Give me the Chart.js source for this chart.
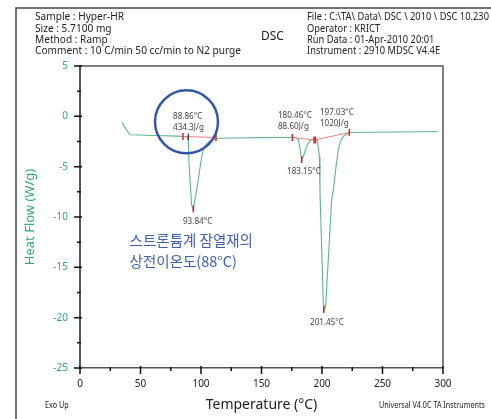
<!DOCTYPE html>
<html>
<head>
<meta charset="utf-8">
<script src="https://cdn.jsdelivr.net/npm/chart.js@4"></script>
<style>
  html, body { margin: 0; padding: 0; background: #fff; }
  #wrap { width: 491px; height: 419px; }
</style>
</head>
<body>
<div id="wrap"><canvas id="dsc" width="491" height="419"></canvas></div>
<script>
// DSC run: temperature (°C) vs heat flow (W/g)
const tempC = [34.7, 36.5, 41.3, 50, 60, 70, 80, 87, 88.9, 89.5, 90.1, 91.2, 92.3, 93.5, 94.5, 96, 97.8, 99.5, 101.4, 103.5, 106, 108.5, 111.6,
  115, 130, 150, 170, 178, 180.4, 181.8, 183.2, 184.5, 187.3, 189.5, 191.5, 194.2, 196.1, 197.8, 198.3, 199.2, 200.2, 201.1, 201.5,
  203, 208, 209.4, 211.6, 213.5, 215.5, 217.6, 222.6, 240, 260, 280, 295.3];
const heatFlow = [-0.6, -1.0, -1.83, -1.86, -1.9, -1.93, -1.97, -2.0, -2.1, -2.5, -4.6, -7.0, -8.8, -9.3, -8.7, -7.6, -6.3, -4.8, -3.5, -2.9, -2.6, -2.4, -2.25,
  -2.18, -2.15, -2.12, -2.1, -2.1, -2.3, -3.2, -4.4, -4.0, -3.0, -2.5, -2.3, -2.25, -2.3, -4.0, -7.3, -11, -15, -18.6, -19.3,
  -18.9, -8.3, -7.3, -5.0, -3.3, -2.4, -2.0, -1.6, -1.58, -1.55, -1.53, -1.5];

// integration baselines
const base1T = [85.1, 112.4];
const base1HF = [-2.0, -2.1];
const base2T = [175.5, 194, 222.6];
const base2HF = [-2.1, -2.35, -1.6];

// red limit / peak markers
const markT = [85.1, 112.4, 93.7, 175.5, 183.2, 193.4, 194.6, 201.5, 222.6];
const markHF = [-2.0, -2.1, -9.2, -2.1, -4.3, -2.35, -2.35, -19.2, -1.6];
const onsetT = [89.5];
const onsetHF = [-2.05];

// highlight circle
const circleT = [88.0];
const circleHF = [-0.55];

// axes
const xTicks = [0, 50, 100, 150, 200, 250, 300];
const xMinor = [25, 75, 125, 175, 225, 275];
const yTicks = [5, 0, -5, -10, -15, -20, -25];
const yMinor = [2.5, -2.5, -7.5, -12.5, -17.5, -22.5];

// peak annotations [T, HF, text]
const peakLabels = [
  [76.9, -0.04, '88.86°C'],
  [76.9, -1.13, '434.3J/g'],
  [85.1, -10.48, '93.84°C'],
  [163.6, 0.06, '180.46°C'],
  [163.6, -1.03, '88.60J/g'],
  [171.1, -5.51, '183.15°C'],
  [198.3, 0.36, '197.03°C'],
  [198.3, -0.74, '1020J/g'],
  [190.1, -20.52, '201.45°C']
];
const noteLines = ['스트론튬계 잠열재의', '상전이온도(88°C)'];

const headerLeft = ['Sample : Hyper-HR', 'Size : 5.7100 mg', 'Method : Ramp', 'Comment : 10 C/min 50 cc/min to N2 purge'];
const headerRight = ['File : C:\\TA\\ Data\\ DSC \\ 2010 \\ DSC 10.230', 'Operator : KRICT', 'Run Data : 01-Apr-2010 20:01', 'Instrument : 2910 MDSC V4.4E'];

const pts = (xs, ys) => xs.map((x, i) => ({ x, y: ys[i] }));

const TICK_GREEN = '#2fa878';
const AXIS = '#555';

// narrow text, the original uses a condensed face
function narrowText(ctx, s, x, y, sx) {
  ctx.save();
  ctx.translate(x, y);
  ctx.scale(sx, 1);
  ctx.fillText(s, 0, 0);
  ctx.restore();
}

// squeeze a block of lines so its longest line fits a given width
function textBlock(ctx, lines, x, y0, step, width) {
  const widest = Math.max(...lines.map(s => ctx.measureText(s).width));
  const sx = Math.min(1, width / widest);
  lines.forEach((s, i) => narrowText(ctx, s, x, y0 + i * step, sx));
}

const decor = {
  id: 'decor',
  afterDraw(chart) {
    const { ctx, chartArea: a, scales: { x, y } } = chart;
    ctx.save();
    // outer frame
    ctx.strokeStyle = '#444';
    ctx.lineWidth = 1.5;
    ctx.beginPath();
    ctx.moveTo(16, 419); ctx.lineTo(16, 8); ctx.lineTo(491, 8);
    ctx.stroke();
    // plot frame top / right
    ctx.strokeStyle = AXIS;
    ctx.lineWidth = 1.5;
    ctx.beginPath();
    ctx.moveTo(a.left, a.top); ctx.lineTo(a.right, a.top); ctx.lineTo(a.right, a.bottom);
    ctx.stroke();
    // ticks
    ctx.strokeStyle = '#111';
    ctx.lineWidth = 1.5;
    ctx.beginPath();
    yTicks.forEach(v => { const p = y.getPixelForValue(v); ctx.moveTo(a.left - 6, p); ctx.lineTo(a.left + 2, p); });
    yMinor.forEach(v => { const p = y.getPixelForValue(v); ctx.moveTo(a.left - 3, p); ctx.lineTo(a.left + 1, p); });
    xTicks.forEach(v => { const p = x.getPixelForValue(v); ctx.moveTo(p, a.bottom - 2); ctx.lineTo(p, a.bottom + 6); });
    xMinor.forEach(v => { const p = x.getPixelForValue(v); ctx.moveTo(p, a.bottom - 1); ctx.lineTo(p, a.bottom + 3); });
    ctx.stroke();

    // header
    ctx.fillStyle = '#222';
    ctx.textBaseline = 'middle';
    ctx.textAlign = 'left';
    ctx.font = '11.5px "Noto Sans"';
    textBlock(ctx, headerLeft, 35, 17, 11.3, 206);
    textBlock(ctx, headerRight, 307, 17, 11.3, 182);
    ctx.font = '13px "Noto Sans"';
    narrowText(ctx, 'DSC', 261, 36, 0.92);

    // footer
    ctx.font = '8px "Noto Sans"';
    narrowText(ctx, 'Exo Up', 45, 406, 0.9);
    ctx.textAlign = 'right';
    narrowText(ctx, 'Universal V4.0C TA Instruments', 485, 406, 0.9);

    // peak labels
    ctx.textAlign = 'left';
    ctx.fillStyle = '#444';
    ctx.font = '9px "Noto Sans"';
    peakLabels.forEach(([t, h, s]) => narrowText(ctx, s, x.getPixelForValue(t), y.getPixelForValue(h), 0.9));

    // Korean note
    ctx.fillStyle = '#3f5fb0';
    ctx.font = '14.5px "Noto Sans CJK KR"';
    noteLines.forEach((s, i) => ctx.fillText(s, x.getPixelForValue(41.0), y.getPixelForValue(-12.3 - i * 2.1)));
    ctx.restore();
  }
};

new Chart(document.getElementById('dsc'), {
  type: 'scatter',
  data: {
    datasets: [
      { data: pts(circleT, circleHF), pointRadius: 31.5, pointBorderWidth: 2.5, borderColor: '#3556a8', backgroundColor: 'rgba(0,0,0,0)' },
      { data: pts(markT, markHF), pointStyle: 'line', rotation: 90, pointRadius: 3.5, borderWidth: 1.5, borderColor: '#e02020' },
      { data: pts(onsetT, onsetHF), pointStyle: 'line', rotation: 90, pointRadius: 3.5, borderWidth: 1.2, borderColor: '#333' },
      { data: pts(base1T, base1HF), showLine: true, pointRadius: 0, borderWidth: 1, borderColor: '#f08080' },
      { data: pts(base2T, base2HF), showLine: true, pointRadius: 0, borderWidth: 1, borderColor: '#f08080' },
      { data: pts(tempC, heatFlow), showLine: true, pointRadius: 0, borderWidth: 1.1, borderColor: '#5cb985', tension: 0 }
    ]
  },
  options: {
    responsive: false,
    animation: false,
    devicePixelRatio: 1,
    layout: { padding: { left: 0, top: 66, right: 48, bottom: 0 } },
    plugins: { legend: { display: false }, tooltip: { enabled: false } },
    scales: {
      x: {
        type: 'linear', min: 0, max: 300,
        afterFit: s => { s.height = 51; },
        ticks: { stepSize: 50, color: '#222', padding: 10, font: { family: 'Noto Sans', size: 10 } },
        grid: { drawOnChartArea: false, drawTicks: false },
        border: { display: true, color: AXIS, width: 1.5 },
        title: { display: true, text: 'Temperature (°C)', color: '#222', font: { family: 'Noto Sans', size: 14 }, padding: { top: 0, bottom: 6 } }
      },
      y: {
        type: 'linear', min: -25, max: 5,
        afterFit: s => { s.width = 80; },
        ticks: { stepSize: 5, color: TICK_GREEN, padding: 12, font: { family: 'Noto Sans', size: 10 } },
        grid: { drawOnChartArea: false, drawTicks: false },
        border: { display: true, color: AXIS, width: 2 },
        title: { display: true, text: 'Heat Flow (W/g)', color: TICK_GREEN, font: { family: 'Noto Sans', size: 13 }, padding: { top: 22, bottom: 0 } }
      }
    }
  },
  plugins: [decor]
});
</script>
</body>
</html>
